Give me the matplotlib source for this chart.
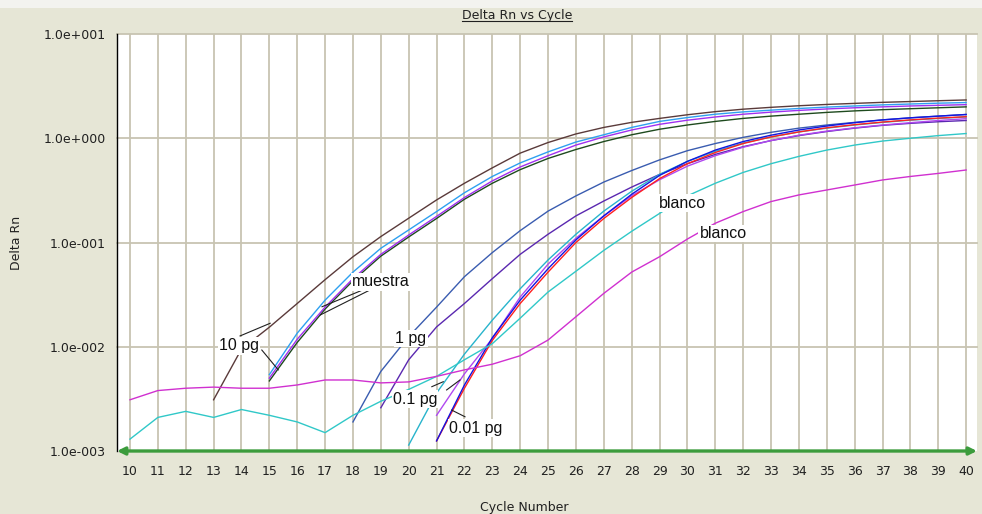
import numpy as np
import matplotlib
matplotlib.use('Agg')
import matplotlib.pyplot as plt
from matplotlib.lines import Line2D
from matplotlib.patches import Rectangle
from matplotlib.ticker import NullLocator

# amplification curves, one list per well, values from the first cycle listed
pg10_brown_start = 13
pg10_brown = [0.0031, 0.0095, 0.0154, 0.026, 0.044, 0.073, 0.114, 0.171, 0.256, 0.37,
              0.52, 0.72, 0.91, 1.1, 1.27, 1.42, 1.55, 1.68, 1.8, 1.9, 1.98, 2.05,
              2.11, 2.16, 2.21, 2.25, 2.29, 2.33]
pg10_sky_start = 15
pg10_sky = [0.0054, 0.0135, 0.028, 0.052, 0.088, 0.132, 0.198, 0.30, 0.43, 0.58,
            0.74, 0.92, 1.08, 1.27, 1.45, 1.58, 1.7, 1.79, 1.86, 1.93, 1.99, 2.04,
            2.09, 2.13, 2.17, 2.2]
pg10_violet_start = 15
pg10_violet = [0.0050, 0.0118, 0.024, 0.045, 0.077, 0.118, 0.178, 0.27, 0.39, 0.53,
               0.68, 0.86, 1.03, 1.2, 1.36, 1.49, 1.6, 1.7, 1.78, 1.85, 1.91, 1.96,
               2.0, 2.04, 2.07, 2.1]
pg10_green_start = 15
pg10_green = [0.0047, 0.011, 0.023, 0.043, 0.074, 0.113, 0.17, 0.26, 0.37, 0.5,
              0.64, 0.78, 0.93, 1.08, 1.22, 1.34, 1.45, 1.55, 1.63, 1.7, 1.77, 1.83,
              1.88, 1.92, 1.96, 2.0]
pg1_steel_start = 18
pg1_steel = [0.0019, 0.0058, 0.0125, 0.024, 0.047, 0.08, 0.13, 0.2, 0.28, 0.38, 0.49,
             0.62, 0.76, 0.89, 1.02, 1.14, 1.25, 1.34, 1.42, 1.5, 1.57, 1.63, 1.69]
pg1_indigo_start = 19
pg1_indigo = [0.0026, 0.0075, 0.0155, 0.026, 0.045, 0.077, 0.12, 0.18, 0.25, 0.34,
              0.45, 0.57, 0.7, 0.83, 0.95, 1.06, 1.16, 1.25, 1.33, 1.39, 1.44, 1.48]
pg01_cyan_start = 20
pg01_cyan = [0.00114, 0.0036, 0.0085, 0.018, 0.036, 0.068, 0.12, 0.2, 0.31, 0.45, 0.6,
             0.75, 0.9, 1.03, 1.15, 1.25, 1.34, 1.42, 1.49, 1.55, 1.6]
pg01_violet_start = 21
pg01_violet = [0.0022, 0.0055, 0.012, 0.03, 0.062, 0.11, 0.18, 0.28, 0.4, 0.54, 0.68,
               0.82, 0.95, 1.07, 1.17, 1.26, 1.34, 1.41, 1.48, 1.54]
pg001_red_start = 21
pg001_red = [0.00125, 0.0040, 0.0115, 0.026, 0.052, 0.1, 0.17, 0.27, 0.41, 0.57, 0.73,
             0.89, 1.03, 1.15, 1.26, 1.35, 1.43, 1.5, 1.56, 1.61]
pg001_blue_start = 21
pg001_blue = [0.00125, 0.0043, 0.0122, 0.028, 0.056, 0.106, 0.18, 0.29, 0.44, 0.6,
              0.77, 0.93, 1.07, 1.2, 1.31, 1.41, 1.5, 1.57, 1.63, 1.69]
blank_cyan_start = 10
blank_cyan = [0.0013, 0.0021, 0.0024, 0.0021, 0.0025, 0.0022, 0.0019, 0.0015, 0.0022,
              0.003, 0.0039, 0.0052, 0.0075, 0.0107, 0.0188, 0.0335, 0.053, 0.084,
              0.128, 0.19, 0.28, 0.37, 0.47, 0.57, 0.67, 0.77, 0.86, 0.94, 1.0, 1.06,
              1.11]
blank_magenta_start = 10
blank_magenta = [0.0031, 0.0038, 0.0040, 0.0041, 0.0040, 0.0040, 0.0043, 0.0048,
                 0.0048, 0.0045, 0.0046, 0.0052, 0.006, 0.0068, 0.0082, 0.0116, 0.0194,
                 0.0325, 0.052, 0.073, 0.108, 0.153, 0.198, 0.247, 0.286, 0.319, 0.356,
                 0.398, 0.43, 0.46, 0.496]

x_ticks = list(range(10, 41))
y_ticks = [1e-3, 1e-2, 1e-1, 1e0, 1e1]
y_tick_labels = ['1.0e-003', '1.0e-002', '1.0e-001', '1.0e+000', '1.0e+001']

curves = [
    (pg10_brown_start, pg10_brown, '#5a3a3a'),
    (pg10_green_start, pg10_green, '#1e4a1e'),
    (pg10_violet_start, pg10_violet, '#a030f0'),
    (pg10_sky_start, pg10_sky, '#2ea0f0'),
    (pg1_steel_start, pg1_steel, '#3a5cb0'),
    (pg1_indigo_start, pg1_indigo, '#5a28b0'),
    (pg01_cyan_start, pg01_cyan, '#28b4cc'),
    (pg01_violet_start, pg01_violet, '#b048f0'),
    (pg001_red_start, pg001_red, '#ff2020'),
    (pg001_blue_start, pg001_blue, '#1414e0'),
    (blank_cyan_start, blank_cyan, '#30c8c8'),
    (blank_magenta_start, blank_magenta, '#d030d0'),
]

W, H = 982, 514
bg = '#e6e6d6'
fig = plt.figure(figsize=(W / 100, H / 100), dpi=100, facecolor=bg)
fig.patches.append(Rectangle((0, 1 - 8 / H), 1, 8 / H, transform=fig.transFigure,
                             fc='#f3f3ef', ec='none'))

ax = fig.add_axes([117 / W, 63 / H, 860 / W, 417 / H])
ax.set_facecolor('white')
ax.set_yscale('log')
ax.set_xlim(9.534, 40.39)
ax.set_ylim(1e-3, 1e1)

for start, vals, col in curves:
    cyc = np.arange(start, start + len(vals))
    ax.plot(cyc, vals, color=col, lw=1.0, zorder=3)

# grid
for c in x_ticks:
    ax.axvline(c, color='#c8c4b2', lw=1.3, zorder=1)
for v in y_ticks[1:]:
    ax.axhline(v, color='#c8c4b2', lw=1.3, zorder=1, clip_on=False)

ax.set_xticks(x_ticks)
ax.set_xticklabels([str(c) for c in x_ticks])
ax.set_yticks(y_ticks)
ax.set_yticklabels(y_tick_labels)
ax.yaxis.set_minor_locator(NullLocator())
ax.tick_params(axis='both', length=0, labelsize=9, colors='#202020')
ax.tick_params(axis='x', pad=10)
ax.tick_params(axis='y', pad=8)
for side in ['top', 'right', 'bottom']:
    ax.spines[side].set_visible(False)
ax.spines['left'].set_color('black')
ax.spines['left'].set_linewidth(1.0)

# green cycle axis with arrow heads
ax.annotate('', xy=(1.0, 0), xytext=(0.0, 0), xycoords='axes fraction',
            arrowprops=dict(arrowstyle='<|-|>', color='#3c9c3c', lw=2.4,
                            mutation_scale=11, shrinkA=0, shrinkB=0), zorder=5,
            annotation_clip=False)

# leader lines
leaders = [
    ((13.95, 0.0127), (15.03, 0.0168)),
    ((14.73, 0.0093), (15.32, 0.0060)),
    ((18.50, 0.0364), (16.89, 0.0242)),
    ((18.56, 0.0345), (16.83, 0.0202)),
    ((20.83, 0.00414), (21.24, 0.00462)),
    ((21.36, 0.00385), (21.84, 0.0048)),
    ((21.54, 0.00247), (22.02, 0.00213)),
]
for (x0, y0), (x1, y1) in leaders:
    ax.plot([x0, x1], [y0, y1], color='#202020', lw=0.8, zorder=4)

labels = [
    ('10 pg', 13.91, 0.01017),
    ('muestra', 19.0, 0.0418),
    ('1 pg', 20.08, 0.0121),
    ('0.1 pg', 20.23, 0.00315),
    ('0.01 pg', 22.41, 0.00166),
    ('blanco', 29.84, 0.239),
    ('blanco', 31.28, 0.123),
]
for txt, x, y in labels:
    ax.text(x, y, txt, ha='center', va='center', fontsize=11.5,
            family='Liberation Sans', color='#101010', zorder=6,
            bbox=dict(fc='white', ec='none', pad=0.8))

fig.text(17 / W, 1 - 243 / H, 'Delta Rn', rotation=90, ha='center', va='center',
         fontsize=9, color='#202020')
fig.text(524 / W, 1 - 507 / H, 'Cycle Number', ha='center', va='center',
         fontsize=9, color='#202020')
title = fig.text(517 / W, 1 - 15 / H, 'Delta Rn vs Cycle', ha='center', va='center',
                 fontsize=9, color='#202020')

# underline the title
fig.canvas.draw()
bb = title.get_window_extent()
uy = (bb.y0 + 0.5) / H
fig.add_artist(Line2D([bb.x0 / W, bb.x1 / W], [uy, uy], transform=fig.transFigure,
                      color='#202020', lw=0.8))

fig.savefig('out.png', dpi=100, facecolor=bg)
